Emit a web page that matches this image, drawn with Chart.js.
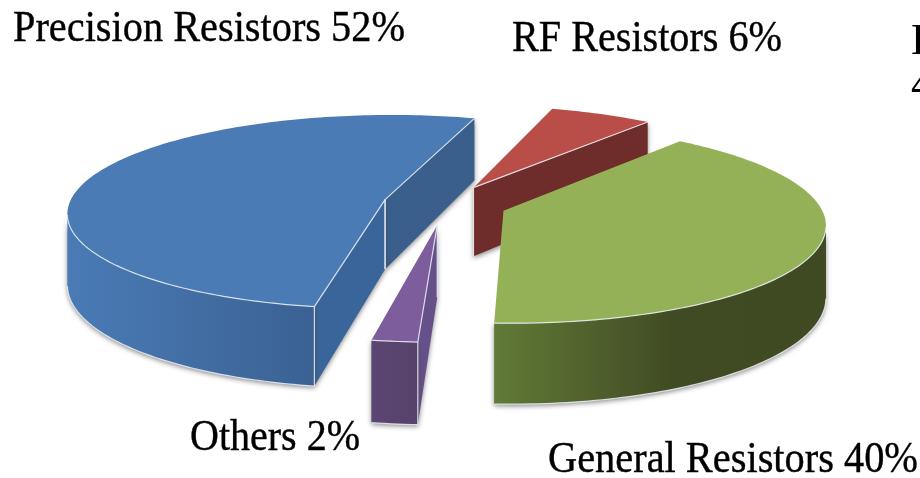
<!DOCTYPE html>
<html>
<head>
<meta charset="utf-8">
<title>Resistor market share</title>
<script src="https://cdn.jsdelivr.net/npm/chart.js@4/dist/chart.umd.min.js"></script>
<style>
  html, body { margin: 0; padding: 0; background: #fff; overflow: hidden; }
  #wrap { width: 920px; height: 478px; }
</style>
</head>
<body>
<div id="wrap"><canvas id="chart-area-pie"></canvas></div>
<script>
//PIE CHART DATA
var categories = ["Precision Resistors", "RF Resistors", "General Resistors", "Others"];
var shares = [52, 6, 40, 2];
var explode = [62, 62, 62, 68];
// the third party label runs off the right edge of the picture
var cutLabels = ["H", "4"];

/*************************LOOK OF THE SLICES*******************/
var SQUASH = 0.305;    // tilt of the pie
var PERSP = 0.0004;    // things near the viewer get bigger
var DEPTH = 70;        // thickness of the pie
var drawOrder = [1, 0, 3, 2]; // back to front

var faces = [
  { top: "#4a7bb5", rim: ["#4a7bb6", "#3b6193"], rimX: [67, 315], start: "#3a659a", end: "#3a5f8c" },
  { top: "#b94e49", rim: ["#6e2c2a", "#6e2c2a"], rimX: [470, 650], start: "#6e2c2a", end: "#6e2c2a" },
  { top: "#95b158", rim: ["#617a37", "#404a23", "#3f4a22"], rimX: [495, 825], start: "#5f7735", end: "#5f7735" },
  { top: "#7d5d9c", rim: ["#5b4573", "#574269"], rimX: [373, 418], start: "#66508a", end: "#66508a" },
];

var labelSpots = [
  { x: 13, y: 41, w: 392 },
  { x: 512, y: 51, w: 270 },
  { x: 548, y: 472, w: 370 },
  { x: 190, y: 450, w: 170 },
];

function project(cx, cy, X, Y) {
  var f = 1 / (1 - PERSP * Y);
  return { x: cx + X * f, y: cy + SQUASH * Y * f, f: f };
}

function drop(p) {
  return { x: p.x, y: p.y + DEPTH * p.f };
}

function rimPoints(cx, cy, ox, oy, r, a0, a1) {
  var pts = [];
  var n = Math.max(2, Math.ceil(Math.abs(a1 - a0) / 0.02));
  for (var i = 0; i <= n; i++) {
    var a = a0 + ((a1 - a0) * i) / n;
    pts.push(project(cx, cy, ox + r * Math.cos(a), oy + r * Math.sin(a)));
  }
  return pts;
}

function trace(ctx, pts) {
  ctx.beginPath();
  pts.forEach(function (p, i) {
    if (i === 0) ctx.moveTo(p.x, p.y);
    else ctx.lineTo(p.x, p.y);
  });
}

function edgeLine(ctx, pts) {
  trace(ctx, pts);
  ctx.strokeStyle = "rgba(235,240,245,0.85)";
  ctx.lineWidth = 1.2;
  ctx.stroke();
}

function wall(ctx, pts, fill) {
  var bottom = pts.map(drop).reverse();
  ctx.save();
  ctx.shadowColor = "rgba(60,60,60,0.6)";
  ctx.shadowBlur = 5;
  ctx.shadowOffsetY = 2;
  trace(ctx, pts.concat(bottom));
  ctx.closePath();
  ctx.fillStyle = fill;
  ctx.fill();
  ctx.restore();
}

// part of the rim that shows below the top face, cut at the silhouette
function frontRim(cx, cy, ox, oy, r, a0, a1) {
  var lo = Math.max(a0, -0.5), hi = Math.min(a1, Math.PI + 0.5);
  if (hi <= lo) return [];
  var pts = rimPoints(cx, cy, ox, oy, r, lo, hi);
  var left = 0, right = 0;
  pts.forEach(function (p, i) {
    if (p.x > pts[right].x) right = i;
    if (p.x < pts[left].x) left = i;
  });
  // going clockwise the right extreme comes first
  return pts.filter(function (p, i) {
    return (a0 > -0.5 || i >= right) && (a1 < Math.PI + 0.5 || i <= left);
  });
}

function drawSlice(ctx, arc, look) {
  var cx = arc.x, cy = arc.y, r = arc.outerRadius;
  // the library keeps counting past a full turn
  var a0 = arc.startAngle, a1 = arc.endAngle;
  while (a0 > Math.PI * 0.75) { a0 -= 2 * Math.PI; a1 -= 2 * Math.PI; }
  if (a1 < 0 && a0 + 2 * Math.PI < Math.PI) { a0 += 2 * Math.PI; a1 += 2 * Math.PI; }
  var mid = (a0 + a1) / 2;
  var ox = Math.cos(mid) * arc.options.offset;
  var oy = Math.sin(mid) * arc.options.offset;
  var apex = project(cx, cy, ox, oy);
  var rim = rimPoints(cx, cy, ox, oy, r, a0, a1);
  var startPt = rim[0], endPt = rim[rim.length - 1];
  var showEnd = Math.sin(a1 + Math.PI / 2) > 0;
  var showStart = Math.sin(a0 - Math.PI / 2) > 0;

  // cut faces, only the ones turned to the viewer
  if (showEnd) wall(ctx, [apex, endPt], look.end);
  if (showStart) wall(ctx, [apex, startPt], look.start);

  // outer wall
  var front = frontRim(cx, cy, ox, oy, r, a0, a1);
  if (front.length > 1) {
    var g = ctx.createLinearGradient(look.rimX[0], 0, look.rimX[1], 0);
    look.rim.forEach(function (c, i) {
      g.addColorStop(look.rim.length === 3 && i === 1 ? 0.55 : i / (look.rim.length - 1), c);
    });
    wall(ctx, front, g);
  }

  // top
  trace(ctx, [apex].concat(rim));
  ctx.closePath();
  ctx.fillStyle = look.top;
  ctx.fill();

  // thin light edges
  if (front.length > 1) {
    edgeLine(ctx, front);
    edgeLine(ctx, front.map(drop));
  }
  if (showEnd) {
    edgeLine(ctx, [apex, endPt]);
    edgeLine(ctx, [apex, drop(apex)]);
  }
  if (showStart) {
    edgeLine(ctx, [apex, startPt]);
    edgeLine(ctx, [startPt, drop(startPt)]);
    edgeLine(ctx, [apex, drop(apex)]);
  }
}

function fitText(ctx, text, spot) {
  var w = ctx.measureText(text).width;
  ctx.save();
  ctx.translate(spot.x, spot.y);
  ctx.scale(spot.w / w, 1);
  ctx.fillText(text, 0, 0);
  ctx.strokeText(text, 0, 0);
  ctx.restore();
}

// the library works out the arcs, this only changes how they get painted
var pie3d = {
  id: "pie3d",
  beforeDatasetDraw: function (chart, args) {
    var ctx = chart.ctx;
    var arcs = chart.getDatasetMeta(args.index).data;
    drawOrder.forEach(function (i) {
      drawSlice(ctx, arcs[i], faces[i]);
    });
    return false;
  },
  afterDatasetsDraw: function (chart) {
    var ctx = chart.ctx;
    ctx.save();
    ctx.fillStyle = "#000";
    ctx.strokeStyle = "#000";
    ctx.lineWidth = 0.4;
    ctx.font = '44px "Liberation Serif"';
    ctx.textBaseline = "alphabetic";
    categories.forEach(function (name, i) {
      fitText(ctx, name + " " + shares[i] + "%", labelSpots[i]);
    });
    ctx.fillText(cutLabels[0], 911, 54);
    ctx.fillText(cutLabels[1], 911, 98);
    ctx.restore();
  },
};

/*************************CHART CONFIGURATION*******************/
var config = {
  type: "pie",
  data: {
    labels: categories,
    datasets: [
      {
        data: shares,
        offset: explode,
        borderWidth: 0,
        backgroundColor: faces.map(function (f) { return f.top; }),
        label: "Market share",
      },
    ],
  },
  options: {
    responsive: false,
    animation: false,
    rotation: 190,
    radius: 316,
    layout: { padding: { right: 30, bottom: 70 } },
    plugins: {
      legend: { display: false },
      title: { display: false },
      tooltip: { enabled: false },
    },
  },
  plugins: [pie3d],
};

//ONLOAD FUNCTION
window.onload = function () {
  var canvas = document.getElementById("chart-area-pie");
  canvas.width = 920;
  canvas.height = 478;
  window.myPie = new Chart(canvas.getContext("2d"), config);
};
</script>
</body>
</html>
